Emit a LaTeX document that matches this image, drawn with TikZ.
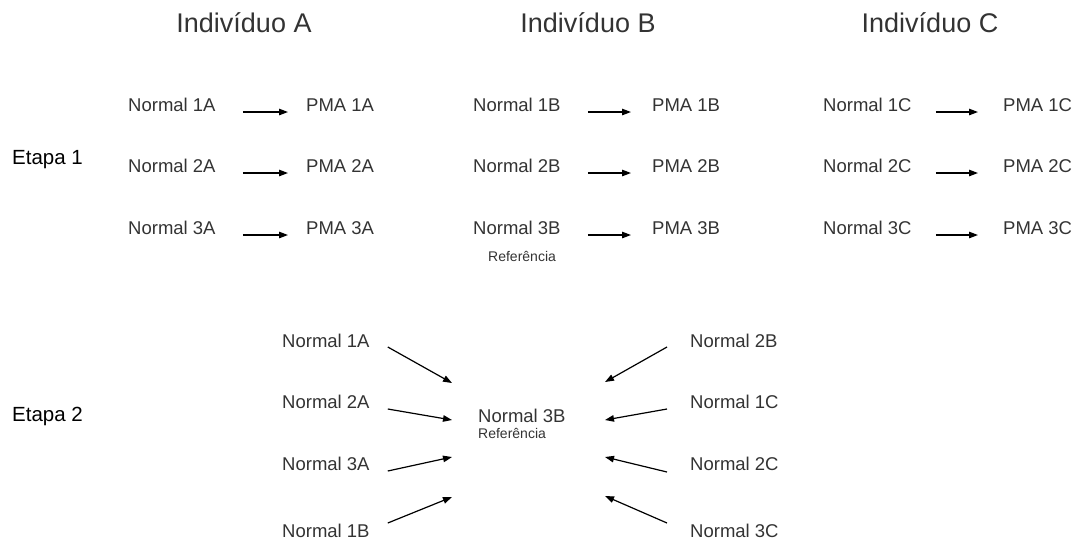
\documentclass[tikz,border=0pt]{standalone}
\usepackage{fontspec}
\setmainfont{Liberation Sans}
\usetikzlibrary{arrows.meta}

\begin{document}
\begin{tikzpicture}[x=1pt, y=-1pt,
    lbl/.style={inner sep=0pt, text=black!80, font=\fontsize{18.5}{22}\selectfont},
    titulo/.style={inner sep=0pt, text=black!80, font=\fontsize{27}{32}\selectfont},
    etapa/.style={inner sep=0pt, font=\fontsize{20.5}{24}\selectfont},
    refer/.style={inner sep=0pt, text=black!80, font=\fontsize{14}{17}\selectfont},
    seta/.style={-{Triangle[length=9pt,width=6.5pt]}, line width=1.2pt}]
    \useasboundingbox (0,0) rectangle (1082,550);

    % titulos
    \node[titulo, anchor=base] (tA) at (244,32) {Indivíduo A};
    \node[titulo, anchor=base] (tB) at (588,32) {Indivíduo B};
    \node[titulo, anchor=base] (tC) at (930,32) {Indivíduo C};

    % etapa 1
    \node[etapa, anchor=base west] (e1) at (12,164) {Etapa 1};
    \node[lbl, anchor=base west] (n1A) at (128,111) {Normal 1A};
    \node[lbl, anchor=base west] (p1A) at (306,111) {PMA 1A};
    \node[lbl, anchor=base west] (n2A) at (128,172) {Normal 2A};
    \node[lbl, anchor=base west] (p2A) at (306,172) {PMA 2A};
    \node[lbl, anchor=base west] (n3A) at (128,234) {Normal 3A};
    \node[lbl, anchor=base west] (p3A) at (306,234) {PMA 3A};
    \node[lbl, anchor=base west] (n1B) at (473,111) {Normal 1B};
    \node[lbl, anchor=base west] (p1B) at (652,111) {PMA 1B};
    \node[lbl, anchor=base west] (n2B) at (473,172) {Normal 2B};
    \node[lbl, anchor=base west] (p2B) at (652,172) {PMA 2B};
    \node[lbl, anchor=base west] (n3B) at (473,234) {Normal 3B};
    \node[lbl, anchor=base west] (p3B) at (652,234) {PMA 3B};
    \node[refer, anchor=base west] (ref1) at (488,261) {Referência};
    \node[lbl, anchor=base west] (n1C) at (823,111) {Normal 1C};
    \node[lbl, anchor=base west] (p1C) at (1003,111) {PMA 1C};
    \node[lbl, anchor=base west] (n2C) at (823,172) {Normal 2C};
    \node[lbl, anchor=base west] (p2C) at (1003,172) {PMA 2C};
    \node[lbl, anchor=base west] (n3C) at (823,234) {Normal 3C};
    \node[lbl, anchor=base west] (p3C) at (1003,234) {PMA 3C};

    \draw[seta, shorten <=27pt, shorten >=18pt] ([yshift=-1pt]n1A.base east) -- ([yshift=-1pt]p1A.base west);
    \draw[seta, shorten <=27pt, shorten >=18pt] ([yshift=-1pt]n2A.base east) -- ([yshift=-1pt]p2A.base west);
    \draw[seta, shorten <=27pt, shorten >=18pt] ([yshift=-1pt]n3A.base east) -- ([yshift=-1pt]p3A.base west);
    \draw[seta, shorten <=27pt, shorten >=21pt] ([yshift=-1pt]n1B.base east) -- ([yshift=-1pt]p1B.base west);
    \draw[seta, shorten <=27pt, shorten >=21pt] ([yshift=-1pt]n2B.base east) -- ([yshift=-1pt]p2B.base west);
    \draw[seta, shorten <=27pt, shorten >=21pt] ([yshift=-1pt]n3B.base east) -- ([yshift=-1pt]p3B.base west);
    \draw[seta, shorten <=24pt, shorten >=25pt] ([yshift=-1pt]n1C.base east) -- ([yshift=-1pt]p1C.base west);
    \draw[seta, shorten <=24pt, shorten >=25pt] ([yshift=-1pt]n2C.base east) -- ([yshift=-1pt]p2C.base west);
    \draw[seta, shorten <=24pt, shorten >=25pt] ([yshift=-1pt]n3C.base east) -- ([yshift=-1pt]p3C.base west);

    % etapa 2
    \node[etapa, anchor=base west] (e2) at (12,421) {Etapa 2};
    \node[lbl, anchor=base west] (m1A) at (282,347) {Normal 1A};
    \node[lbl, anchor=base west] (m2A) at (282,408) {Normal 2A};
    \node[lbl, anchor=base west] (m3A) at (282,470) {Normal 3A};
    \node[lbl, anchor=base west] (m1B) at (282,537) {Normal 1B};
    \node[lbl, anchor=base west] (c3B) at (478,422) {Normal 3B};
    \node[refer, anchor=base west] (ref2) at (478,438) {Referência};
    \node[lbl, anchor=base west] (m2B) at (690,347) {Normal 2B};
    \node[lbl, anchor=base west] (m1C) at (690,408) {Normal 1C};
    \node[lbl, anchor=base west] (m2C) at (690,470) {Normal 2C};
    \node[lbl, anchor=base west] (m3C) at (690,537) {Normal 3C};

    \coordinate (hA1) at (452,383);
    \coordinate (hA2) at (452,420);
    \coordinate (hA3) at (452,457);
    \coordinate (hA4) at (452,497);
    \coordinate (hC1) at (605,382);
    \coordinate (hC2) at (605,420);
    \coordinate (hC3) at (605,457);
    \coordinate (hC4) at (605,496);

    \draw[seta] ([xshift=18pt]m1A.base east) -- (hA1);
    \draw[seta] ([xshift=18pt,yshift=-1pt]m2A.base east) -- (hA2);
    \draw[seta] ([xshift=18pt,yshift=-1pt]m3A.base east) -- (hA3);
    \draw[seta] ([xshift=18pt,yshift=14pt]m1B.base east) -- (hA4);
    \draw[seta] ([xshift=-23pt]m2B.base west) -- (hC1);
    \draw[seta] ([xshift=-23pt,yshift=-1pt]m1C.base west) -- (hC2);
    \draw[seta] ([xshift=-23pt,yshift=-2pt]m2C.base west) -- (hC3);
    \draw[seta] ([xshift=-23pt,yshift=14pt]m3C.base west) -- (hC4);
\end{tikzpicture}
\end{document}
